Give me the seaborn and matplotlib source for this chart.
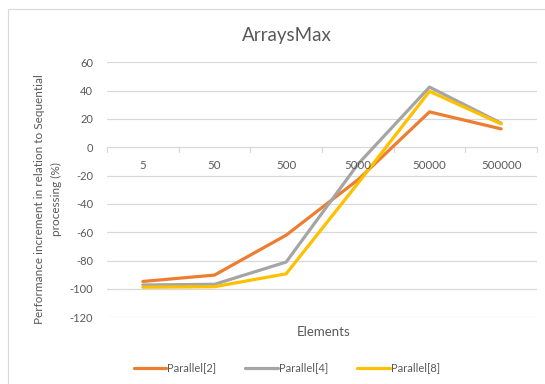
import matplotlib
matplotlib.use("Agg")
import matplotlib.pyplot as plt
import matplotlib.patches as mpatches
import seaborn as sns
import pandas as pd

# Benchmark data: performance increment vs. sequential processing (%)
elements = ["5", "50", "500", "5000", "50000", "500000"]
parallel_2 = [-94.7, -90.2, -62, -23, 25, 13]
parallel_4 = [-97.2, -96.7, -81, -12, 42.5, 17]
parallel_8 = [-98.8, -98.4, -89.3, -25.5, 39.5, 16.5]
series_names = ["Parallel[2]", "Parallel[4]", "Parallel[8]"]
colors = ["#ED7D31", "#A5A5A5", "#FFC000"]
y_ticks = [60, 40, 20, 0, -20, -40, -60, -80, -100, -120]

rows = []
for name, vals in zip(series_names, [parallel_2, parallel_4, parallel_8]):
    for i, v in enumerate(vals):
        rows.append({"pos": i, "Elements": elements[i], "value": v, "series": name})
df = pd.DataFrame(rows)

sns.set_theme(style="white")
plt.rcParams["font.family"] = ["Lato", "DejaVu Sans"]
text_color = "#595959"
grid_color = "#D9D9D9"

fig = plt.figure(figsize=(5.45, 3.84), dpi=100)
ax = fig.add_axes([107 / 545, 1 - 317.3 / 384, 430 / 545, 255 / 384])

# chart frame
fig.patches.append(mpatches.Rectangle((8 / 545, -0.1), 1.2, 1 - 9 / 384 + 0.1,
                                      transform=fig.transFigure, fill=False,
                                      edgecolor="#D9D9D9", linewidth=0.8))

for yv in y_ticks:
    ax.axhline(yv, color=grid_color, linewidth=0.9, zorder=0)

sns.lineplot(data=df, x="pos", y="value", hue="series", palette=colors,
             linewidth=2.3, ax=ax, legend=False, zorder=3)

ax.set_xlim(-0.5, len(elements) - 0.5)
ax.set_ylim(-120, 60)
ax.set_yticks(y_ticks)
ax.set_yticklabels([str(t) for t in y_ticks], color=text_color, fontsize=8)
ax.tick_params(axis="y", length=0, pad=10)
ax.set_xticks([])
for s in ax.spines.values():
    s.set_visible(False)

# category axis at zero with boundary tick marks and labels
for k in range(len(elements) + 1):
    ax.plot([k - 0.5, k - 0.5], [0, -3.5], color=grid_color, linewidth=0.9,
            clip_on=False, zorder=1)
for i, lab in enumerate(elements):
    ax.text(i, -12.5, lab, ha="center", va="center", color=text_color, fontsize=8.3)

ax.set_xlabel("")
ax.set_ylabel("")
fig.text(324 / 545, 1 - 332 / 384, "Elements", ha="center", va="center",
         color=text_color, fontsize=9.5)
fig.text(48 / 545, 1 - 199 / 384,
         "Performance increment in relation to Sequential\nprocessing (%)",
         rotation=90, ha="center", va="center", color=text_color, fontsize=8.5,
         linespacing=1.65, multialignment="center")
fig.text(287 / 545, 1 - 36 / 384, "ArraysMax", ha="center", va="center",
         color=text_color, fontsize=13.5)

handles = [plt.Line2D([], [], color=c, linewidth=2.3) for c in colors]
fig.legend(handles, series_names, loc="center", bbox_to_anchor=(287 / 545, 1 - 368 / 384),
           ncol=3, frameon=False, fontsize=8, labelcolor=text_color,
           handlelength=2.9, handletextpad=0.15, columnspacing=2.6)

fig.savefig("out.png", dpi=100, facecolor="white")
